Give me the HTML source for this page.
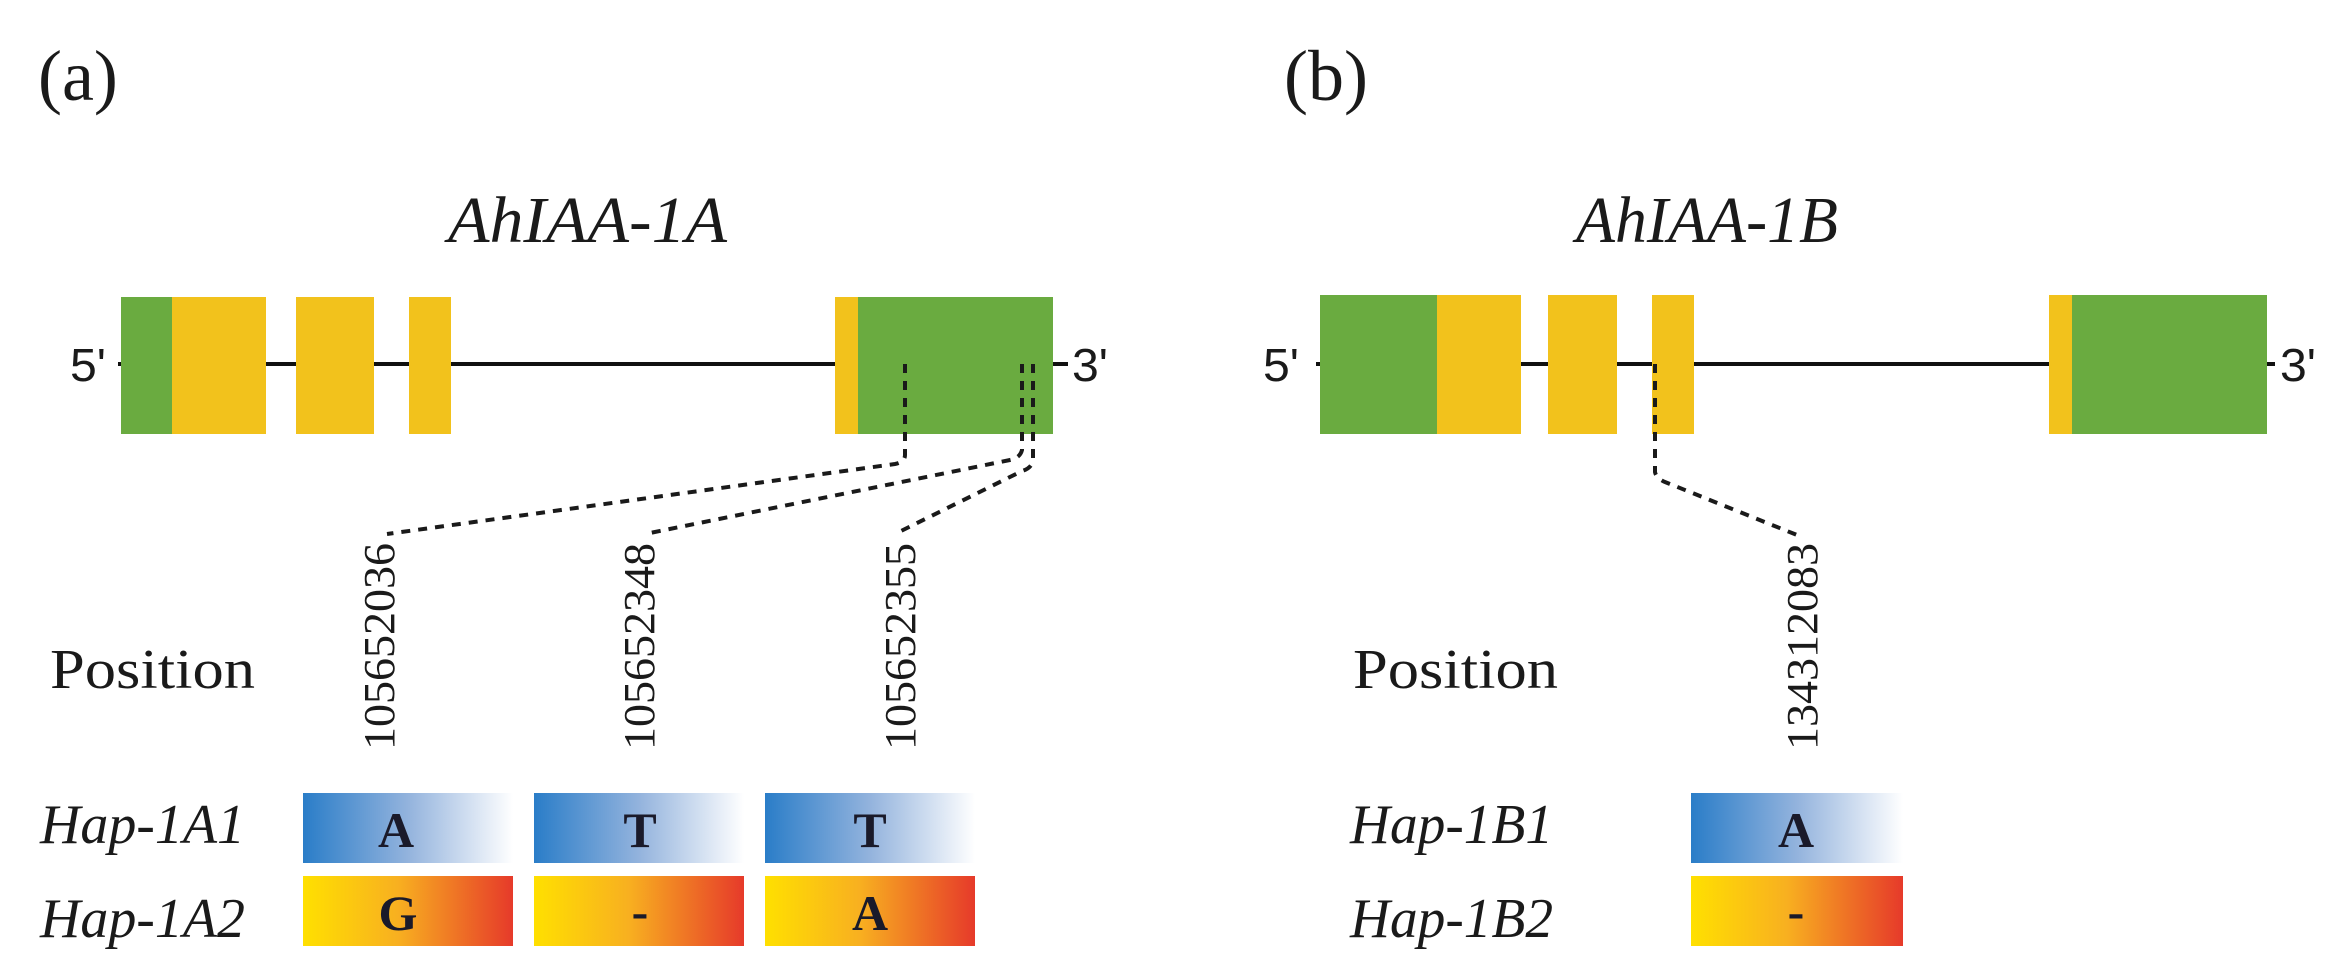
<!DOCTYPE html>
<html><head><meta charset="utf-8"><style>
html,body{margin:0;padding:0;background:#fff;}
svg{display:block;}
</style></head><body>
<svg width="2336" height="976" viewBox="0 0 2336 976" xmlns="http://www.w3.org/2000/svg">
<defs>
<linearGradient id="bl" x1="0" x2="1" y1="0" y2="0">
<stop offset="0" stop-color="#2a7dc8"/><stop offset="0.5" stop-color="#93b3dd"/><stop offset="1" stop-color="#ffffff"/>
</linearGradient>
<linearGradient id="or" x1="0" x2="1" y1="0" y2="0">
<stop offset="0" stop-color="#ffe000"/><stop offset="0.45" stop-color="#f8b020"/><stop offset="1" stop-color="#e63a2a"/>
</linearGradient>
</defs>
<g font-family="'Liberation Serif',serif" fill="#1a1a1a">
<text x="38" y="100" font-size="72">(a)</text>
<text x="1284" y="100" font-size="72">(b)</text>
<text x="448" y="242" font-size="66" font-style="italic" textLength="279" lengthAdjust="spacingAndGlyphs">AhIAA-1A</text>
<text x="1576" y="242" font-size="66" font-style="italic" textLength="262" lengthAdjust="spacingAndGlyphs">AhIAA-1B</text>
</g>
<!-- gene A -->
<line x1="118" y1="364" x2="1068" y2="364" stroke="#111" stroke-width="4"/>
<rect x="121" y="297" width="52" height="137" fill="#6aab40"/>
<rect x="172" y="297" width="94" height="137" fill="#f2c21c"/>
<rect x="296" y="297" width="78" height="137" fill="#f2c21c"/>
<rect x="409" y="297" width="42" height="137" fill="#f2c21c"/>
<rect x="835" y="297" width="24" height="137" fill="#f2c21c"/>
<rect x="858" y="297" width="195" height="137" fill="#6aab40"/>
<g font-family="'Liberation Sans',sans-serif" font-size="46" fill="#1a1a1a">
<text x="70" y="381" textLength="36" lengthAdjust="spacingAndGlyphs">5'</text>
<text x="1072" y="381" textLength="36" lengthAdjust="spacingAndGlyphs">3'</text>
<text x="1263" y="381" textLength="36" lengthAdjust="spacingAndGlyphs">5'</text>
<text x="2280" y="381" textLength="36" lengthAdjust="spacingAndGlyphs">3'</text>
</g>
<!-- gene B -->
<line x1="1316" y1="364" x2="2275" y2="364" stroke="#111" stroke-width="4"/>
<rect x="1320" y="295" width="117" height="139" fill="#6aab40"/>
<rect x="1437" y="295" width="84" height="139" fill="#f2c21c"/>
<rect x="1548" y="295" width="69" height="139" fill="#f2c21c"/>
<rect x="1652" y="295" width="42" height="139" fill="#f2c21c"/>
<rect x="2049" y="295" width="24" height="139" fill="#f2c21c"/>
<rect x="2072" y="295" width="195" height="139" fill="#6aab40"/>
<!-- dashed connectors -->
<g fill="none" stroke="#1a1a1a" stroke-width="4" stroke-dasharray="9,8">
<path d="M905 364 V455 Q905 462 895 464 L387 534"/>
<path d="M1022 364 V450 Q1020 458 1010 460 L645 534"/>
<path d="M1033 364 V460 Q1032 468 1022 471 L895 534"/>
<path d="M1655 364 V472 Q1656 478 1665 482 L1797 535"/>
</g>
<!-- position labels -->
<g font-family="'Liberation Serif',serif" font-size="44" fill="#1a1a1a">
<text transform="translate(394,750) rotate(-90)" textLength="207" lengthAdjust="spacingAndGlyphs">105652036</text>
<text transform="translate(654,750) rotate(-90)" textLength="207" lengthAdjust="spacingAndGlyphs">105652348</text>
<text transform="translate(915,750) rotate(-90)" textLength="207" lengthAdjust="spacingAndGlyphs">105652355</text>
<text transform="translate(1817,750) rotate(-90)" textLength="207" lengthAdjust="spacingAndGlyphs">134312083</text>
</g>
<g font-family="'Liberation Serif',serif" font-size="56" fill="#1a1a1a">
<text x="50" y="688" textLength="205" lengthAdjust="spacingAndGlyphs">Position</text>
<text x="1353" y="688" textLength="205" lengthAdjust="spacingAndGlyphs">Position</text>
<g font-style="italic">
<text x="40" y="843" textLength="205" lengthAdjust="spacingAndGlyphs">Hap-1A1</text>
<text x="40" y="937" textLength="205" lengthAdjust="spacingAndGlyphs">Hap-1A2</text>
<text x="1350" y="843" textLength="203" lengthAdjust="spacingAndGlyphs">Hap-1B1</text>
<text x="1350" y="937" textLength="203" lengthAdjust="spacingAndGlyphs">Hap-1B2</text>
</g>
</g>
<!-- hap boxes -->
<rect x="303" y="793" width="210" height="70" fill="url(#bl)"/>
<rect x="534" y="793" width="210" height="70" fill="url(#bl)"/>
<rect x="765" y="793" width="210" height="70" fill="url(#bl)"/>
<rect x="1691" y="793" width="212" height="70" fill="url(#bl)"/>
<rect x="303" y="876" width="210" height="70" fill="url(#or)"/>
<rect x="534" y="876" width="210" height="70" fill="url(#or)"/>
<rect x="765" y="876" width="210" height="70" fill="url(#or)"/>
<rect x="1691" y="876" width="212" height="70" fill="url(#or)"/>
<g font-family="'Liberation Serif',serif" font-size="50" font-weight="bold" fill="#1a1a2a" text-anchor="middle">
<text x="396" y="847">A</text>
<text x="640" y="847">T</text>
<text x="870" y="847">T</text>
<text x="1796" y="847">A</text>
<text x="398" y="930">G</text>
<text x="640" y="928">-</text>
<text x="870" y="930">A</text>
<text x="1796" y="928">-</text>
</g>
</svg>
</body></html>
